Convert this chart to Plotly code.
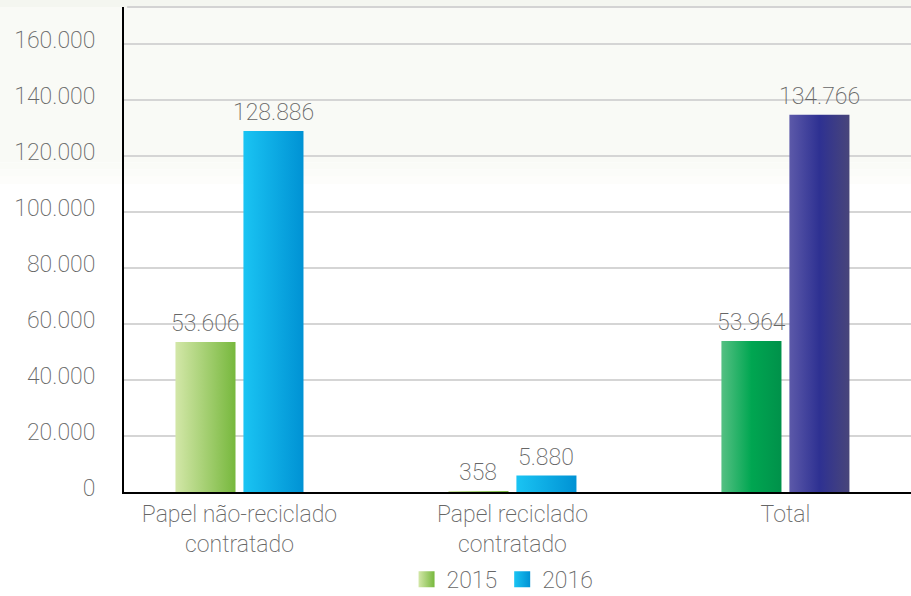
import plotly.graph_objects as go

# Contracted paper, 2015 vs 2016
categories = ["Papel não-reciclado<br>contratado", "Papel reciclado<br>contratado", "Total"]
years = ["2015", "2016"]
values_2015 = [53606, 358, 53964]
values_2016 = [128886, 5880, 134766]

# Horizontal gradient per bar (left -> right)
grad_2015 = [["#d3e7a8", "#77b83d"], ["#d3e7a8", "#77b83d"], ["#55c083", "#00a651", "#00914a"]]
grad_2016 = [["#1ac4f3", "#0092d4"], ["#1ac4f3", "#0092d4"], ["#5c59a9", "#2e3192", "#48457a"]]
legend_grad = {"2015": ("#d3e7a8", "#77b83d"), "2016": ("#1ac4f3", "#0092d4")}

TEXT = "#666666"
FONT = dict(family="Roboto", size=23, color=TEXT, weight=200)

BAR_W = 0.22      # bar width in category units
OFFSET = 0.1245   # half distance between the two bars of a group


def scale(colors):
    n = len(colors) - 1
    return [[i / n, c] for i, c in enumerate(colors)]


fig = go.Figure()

series = [(values_2015, grad_2015, -OFFSET), (values_2016, grad_2016, OFFSET)]
for vals, grads, off in series:
    for i, (v, g) in enumerate(zip(vals, grads)):
        xc = i + off
        x0, x1 = xc - BAR_W / 2, xc + BAR_W / 2
        fig.add_trace(go.Scatter(
            x=[x0, x1, x1, x0, x0], y=[0, 0, v, v, 0],
            mode="none", fill="toself",
            fillgradient=dict(type="horizontal", colorscale=scale(g)),
            showlegend=False, hoverinfo="skip",
        ))
        fig.add_annotation(
            x=xc, y=v, text=f"{v:,}".replace(",", "."),
            showarrow=False, yanchor="bottom", yshift=3,
            font=FONT,
        )

# Legend swatches
for yr in years:
    light, dark = legend_grad[yr]
    fig.add_trace(go.Scatter(
        x=[None], y=[None], mode="markers", name=yr,
        marker=dict(symbol="square", size=16, color=light,
                    gradient=dict(type="horizontal", color=dark),
                    line=dict(width=0)),
    ))

# Pale tint behind the upper part of the chart, fading out downwards
tint = [(0.68, 1.02, "#f9faf6"), (0.665, 0.68, "#fafbf7"), (0.65, 0.665, "#fbfcf9"),
        (0.635, 0.65, "#fdfdfb")]
shapes = [
    dict(type="rect", xref="paper", yref="paper", x0=-0.2, x1=1.01, y0=a, y1=b,
         fillcolor=c, line=dict(width=0), layer="below")
    for a, b, c in tint
]
shapes += [
    dict(type="rect", xref="paper", yref="paper", x0=-0.2, x1=1.01,
         y0=1.0, y1=1.02, fillcolor="#f4f6f0", line=dict(width=0), layer="below"),
    dict(type="line", xref="paper", yref="paper", x0=0.004, x1=1.0,
         y0=1.0, y1=1.0, line=dict(color="#d3d3d3", width=2), layer="below"),
]

fig.update_layout(
    width=911, height=596,
    margin=dict(l=124, r=0, t=7, b=104, autoexpand=False),
    paper_bgcolor="white", plot_bgcolor="rgba(0,0,0,0)",
    separators=",.",
    font=FONT,
    shapes=shapes,
    showlegend=True,
    legend=dict(orientation="h", x=0.481, xanchor="center",
                yref="container", y=0.064, yanchor="top",
                font=FONT, itemsizing="trace", bgcolor="rgba(0,0,0,0)"),
    xaxis=dict(
        range=[-0.423, 2.46], tickmode="array", tickvals=[0, 1, 2], ticktext=categories,
        showgrid=False, zeroline=False, showline=True, linecolor="black", linewidth=2,
        ticks="", tickfont=FONT, fixedrange=True, automargin=False, layer="below traces",
    ),
    yaxis=dict(
        range=[0, 173214], dtick=20000, tickformat=",",
        showgrid=True, gridcolor="#d5d5d5", gridwidth=1.5,
        zeroline=False, showline=True, linecolor="black", linewidth=2,
        ticks="", ticklabelstandoff=22, ticklabelshift=-4, tickfont=FONT,
        fixedrange=True, automargin=False,
    ),
)

fig.write_html("out.html")
